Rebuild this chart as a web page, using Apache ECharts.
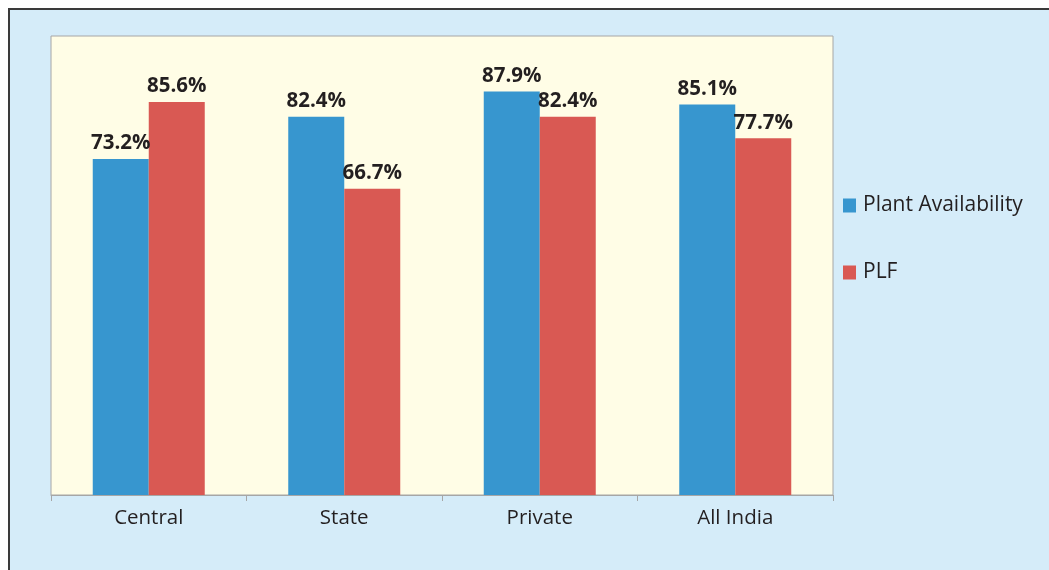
<!DOCTYPE html>
<html>
<head>
<meta charset="utf-8">
<script src="https://cdn.jsdelivr.net/npm/echarts@6/dist/echarts.min.js"></script>
<style>
  html, body {margin: 0; padding: 0; background: #ffffff; overflow: hidden;}
  #frame {position: absolute; left: 8px; top: 8px; width: 1100px; height: 600px;
          background: #d5ecf9; border-top: 2px solid #3a3a3a; border-left: 2px solid #3a3a3a;}
  #main {position: absolute; left: 0; top: 0; width: 1049px; height: 570px;}
</style>
</head>
<body>
<div id="frame"></div>
<div id="main"></div>
<script>
const categories = ['Central', 'State', 'Private', 'All India'];
const plant_availability = [73.2, 82.4, 87.9, 85.1];
const plf = [85.6, 66.7, 82.4, 77.7];

const font = '"Open Sans", "Noto Sans", sans-serif';
const label_style = {
    show: true, position: 'top', distance: 5,
    formatter: p => p.value.toFixed(1) + '%',
    fontFamily: font, fontWeight: 'bold', fontSize: 20.5, color: '#231f20'
};

let my_echart = echarts.init(document.getElementById('main'));
my_echart.setOption({
    backgroundColor: 'transparent',
    animation: false,
    grid: {
        left: 51, top: 36, width: 782, height: 459, show: true,
        backgroundColor: '#fffde6', borderColor: '#a6a6a6', borderWidth: 1
    },
    legend: {
        orient: 'vertical', left: 838, top: 190, itemWidth: 13, itemHeight: 14, itemGap: 46,
        icon: 'rect',
        textStyle: {fontFamily: font, fontSize: 21, color: '#231f20', padding: [0, 0, 0, 2]},
        data: ['Plant Availability', 'PLF']
    },
    xAxis: {
        type: 'category', data: categories,
        axisLine: {lineStyle: {color: '#a6a6a6', width: 1}},
        axisTick: {show: true, length: 6, lineStyle: {color: '#a6a6a6'}},
        axisLabel: {fontFamily: font, fontSize: 20.5, color: '#231f20', margin: 13}
    },
    yAxis: {
        type: 'value', min: 0, max: 100,
        axisLine: {show: false}, axisTick: {show: false}, axisLabel: {show: false},
        splitLine: {show: false}
    },
    series: [
        {
            name: 'Plant Availability', type: 'bar', data: plant_availability,
            barGap: 0, barWidth: 56,
            itemStyle: {color: '#3796cf'}, label: label_style
        },
        {
            name: 'PLF', type: 'bar', data: plf,
            barGap: 0, barWidth: 56,
            itemStyle: {color: '#d95953'}, label: label_style
        }
    ]
});
</script>
</body>
</html>
